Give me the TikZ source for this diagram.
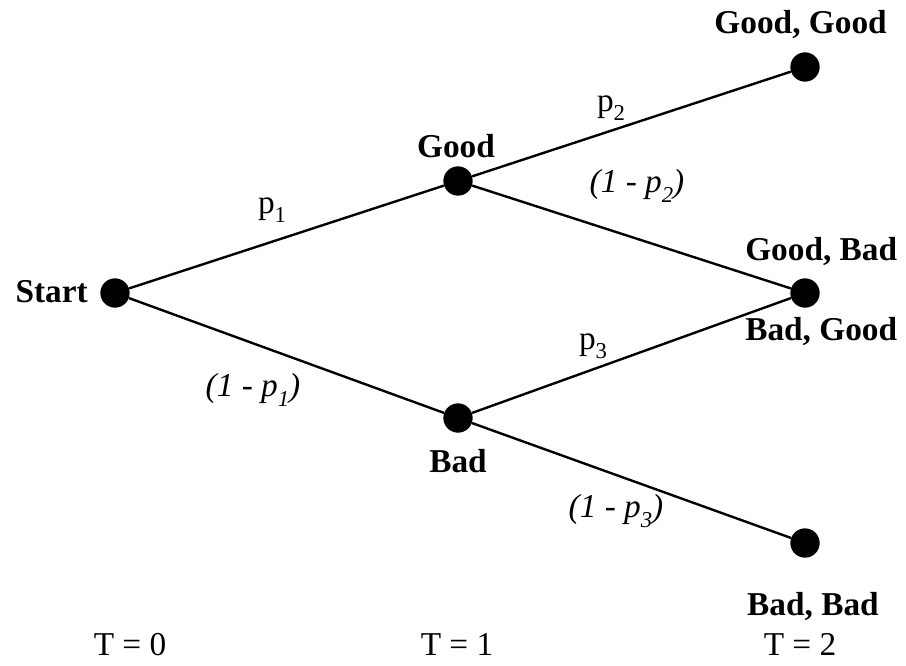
\documentclass[tikz,border=0pt]{standalone}
\usepackage{fontspec}
\setmainfont{Liberation Serif}
\usetikzlibrary{positioning}
\newcommand{\subidx}[1]{\raisebox{-0.28em}{\fontsize{17}{17}\selectfont #1}}

\begin{document}
\begin{tikzpicture}[
  x=0.75pt, y=-0.75pt,
  dot/.style={circle, fill=black, inner sep=0pt, minimum size=22pt},
  state/.style={inner sep=0pt, font=\fontsize{25}{30}\selectfont\bfseries},
  prob/.style={inner sep=0pt, font=\fontsize{25}{30}\selectfont},
  qprob/.style={inner sep=0pt, font=\fontsize{25}{30}\selectfont\itshape},
  time/.style={inner sep=0pt, anchor=base, font=\fontsize{25}{30}\selectfont},
  branch/.style={line width=1.8pt}
]
  \useasboundingbox (0,0) rectangle (906,665);
  % tree nodes
  \node[dot] (start) at (115,293) {};
  \node[dot] (good) at (458,181) {};
  \node[dot] (bad) at (458,418) {};
  \node[dot] (gg) at (805,67) {};
  \node[dot] (gb) at (805,293) {};
  \node[dot] (bb) at (805,543) {};
  % state names
  \node[state, anchor=base east] (tstart) at (88,302) {Start};
  \node[state, anchor=base] (tgood) at (456,157) {Good};
  \node[state, anchor=base] (tbad) at (458,472) {Bad};
  \node[state, anchor=base east] (tgg) at (887,33) {Good, Good};
  \node[state, anchor=base west] (tgb) at (745,260) {Good, Bad};
  \node[state, anchor=base west] (tbg) at (745,340) {Bad, Good};
  \node[state, anchor=base] (tbb) at (813,615) {Bad, Bad};
  % branches
  \draw[branch] (start) -- (good);
  \draw[branch] (start) -- (bad);
  \draw[branch] (good) -- (gg);
  \draw[branch] (good) -- (gb);
  \draw[branch] (bad) -- (gb);
  \draw[branch] (bad) -- (bb);
  % probabilities
  \node[prob] (p1) at (272,210) {p\subidx{1}};
  \node[qprob] (q1) at (253,390) {(1 - p\subidx{1})};
  \node[prob] (p2) at (611,108) {p\subidx{2}};
  \node[qprob] (q2) at (637,186) {(1 - p\subidx{2})};
  \node[prob] (p3) at (593,346) {p\subidx{3}};
  \node[qprob] (q3) at (616,511) {(1 - p\subidx{3})};
  % time axis
  \node[time] (t0) at (130,655) {T = 0};
  \node[time] (t1) at (457,655) {T = 1};
  \node[time] (t2) at (800,655) {T = 2};
\end{tikzpicture}
\end{document}
